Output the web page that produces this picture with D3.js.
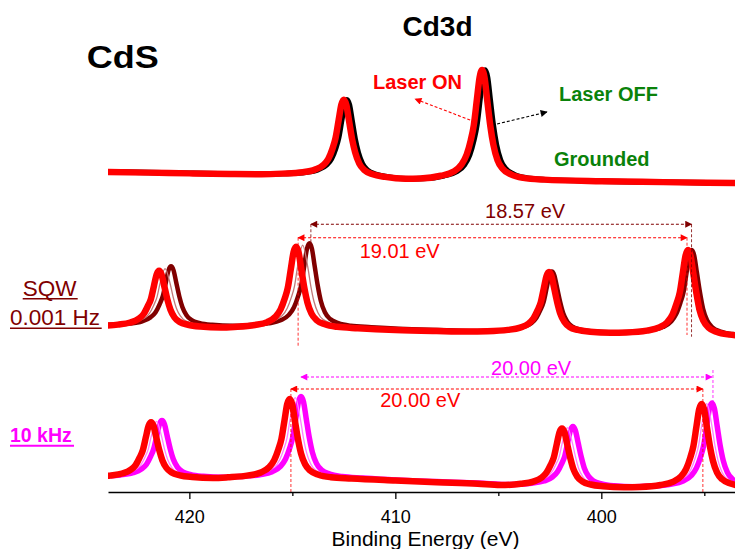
<!DOCTYPE html>
<html><head><meta charset="utf-8">
<script src="https://cdn.jsdelivr.net/npm/d3@7"></script>
<style>body{margin:0;background:#fff}svg{display:block}text{font-family:Arial,"Liberation Sans",sans-serif}</style>
</head><body><svg id="c" width="735" height="549"></svg>
<script>
// ---- axis ----
const xDomain = [423.95, 393.51];
const majorTicks = [420, 410, 400];
const minorTicks = [415, 405, 395];
const xTitle = "Binding Energy (eV)";

// ---- top panel: CdS grounded (intensity a.u.) [BE, I] ----
const topLaserOff = [[424,14.6],[422,14.0],[420,13.4],[418,12.9],[416.5,12.7],
[415.35,13.1],[414.35,14.2],[413.75,16.3],[413.35,19.9],[413.10,25],[412.90,33.1],[412.75,41.8],[412.60,56.1],[412.47,68.3],[412.35,72.3],[412.23,68.2],[412.10,55.6],[411.95,40.8],[411.80,30.1],[411.60,21.1],[411.35,15.9],[410.95,12.6],[410.35,10.5],[409.35,9.0],
[408.64,9.2],[407.64,11.4],[407.04,14.6],[406.64,20.3],[406.39,28.2],[406.19,39.7],[406.04,51.9],[405.89,72.4],[405.76,90],[405.64,96],[405.52,90],[405.39,71.9],[405.24,51.4],[405.09,36.2],[404.89,23.9],[404.64,17],[404.24,12.5],[403.64,9.7],[402.64,8.3],
[400,7.0],[397,6.3],[393.4,5.6]];
const topLaserOn = [[424,14.4],[422,13.9],[420,13.3],[418,12.8],[416.5,12.6],
[415.50,13.1],[414.50,14.2],[413.90,16.3],[413.50,19.9],[413.25,25],[413.05,33.1],[412.90,41.8],[412.75,56.1],[412.62,68.3],[412.50,72.3],[412.38,68.2],[412.25,55.6],[412.10,40.8],[411.95,30.1],[411.75,21.1],[411.50,15.9],[411.10,12.6],[410.50,10.5],[409.50,9.0],
[408.79,9.2],[407.79,11.4],[407.19,14.6],[406.79,20.3],[406.54,28.2],[406.34,39.7],[406.19,51.9],[406.04,72.4],[405.91,90],[405.79,96],[405.67,90],[405.54,71.9],[405.39,51.4],[405.24,36.2],[405.04,23.9],[404.79,17],[404.39,12.5],[403.79,9.7],[402.79,8.3],
[400,7.0],[397,6.3],[393.4,5.6]];

// ---- middle panel: SQW 0.001 Hz ----
const sqwDark = [[424.2,19.4],
[423.89,19.3],[422.89,20.4],[422.29,22.6],[421.89,26.3],[421.64,31.1],[421.44,38.9],[421.29,46.5],[421.14,59.8],[421.01,71.3],[420.89,74.9],[420.77,71.3],[420.64,59.8],[420.49,46.5],[420.34,36.2],[420.14,28.4],[419.89,23.8],[419.49,20.9],[418.89,19.2],[417.89,18.3],
[417.17,18.8],[416.17,20.6],[415.57,23.5],[415.17,28.7],[414.92,35.9],[414.72,46.5],[414.57,56.9],[414.42,75.6],[414.29,91.7],[414.17,96.8],[414.05,91.7],[413.92,75.6],[413.77,56.9],[413.62,42.2],[413.42,31.2],[413.17,24.8],[412.77,20.8],[412.17,18.3],[411.17,17.0],
[409.5,15.2],[407.5,14.0],[406.2,13.4],
[405.40,13.6],[404.40,14.9],[403.80,17.1],[403.40,20.8],[403.15,26.0],[402.95,33.7],[402.80,41.1],[402.65,54.7],[402.52,66.3],[402.40,70],[402.28,66.3],[402.15,54.7],[402.00,41.1],[401.85,30.2],[401.65,22.2],[401.40,17.5],[401.00,14.7],[400.40,13.0],[399.40,12.0],
[398.61,12.3],[397.61,14.1],[397.01,17.1],[396.61,22.3],[396.36,29.6],[396.16,40.3],[396.01,50.1],[395.86,69.1],[395.73,85.3],[395.61,90.5],[395.49,85.3],[395.36,69.1],[395.21,50.1],[395.06,34.6],[394.86,23.4],[394.61,16.9],[394.21,12.8],[393.61,10.4],[392.61,9.1]];
const sqwMid = [[424.2,18.8],
[423.18,19.9],[422.18,25.5],[421.93,30.3],[421.73,37.9],[421.58,45.1],[421.43,58.1],[421.18,72.8],[420.93,58.1],[420.78,45.1],[420.63,35.0],[420.43,27.4],[420.18,22.9],[419.18,18.4],
[416.50,19.8],[415.50,27.9],[415.25,35.0],[415.05,45.4],[414.90,55.6],[414.75,74.1],[414.50,95.1],[414.25,74.1],[414.10,55.6],[413.95,41.4],[413.75,30.5],[413.50,24.2],[412.50,17.8],
[410,14.6],[407,13.2],
[404.47,14.6],[403.47,20.5],[403.22,25.7],[403.02,33.4],[402.87,40.8],[402.72,54.4],[402.47,69.7],[402.22,54.4],[402.07,40.8],[401.92,30.0],[401.72,22.0],[401.47,17.3],[400.47,12.8],
[397.70,13.9],[396.70,22.1],[396.45,29.4],[396.25,40.1],[396.10,49.9],[395.95,68.9],[395.70,90.3],[395.45,68.9],[395.30,49.9],[395.15,34.4],[394.95,23.2],[394.70,16.7],[393.70,10.2],[393.0,8.9]];
const sqwRed = [[424.2,18.4],
[423.47,19.4],[422.87,21.4],[422.47,24.9],[422.22,29.5],[422.02,36.9],[421.87,43.6],[421.72,56.3],[421.59,67.1],[421.47,70.6],[421.35,67.1],[421.22,56.3],[421.07,43.6],[420.92,33.7],[420.72,26.2],[420.47,21.9],[420.07,19.3],[419.47,17.6],[418.47,16.7],
[417.82,17.2],[416.82,19.0],[416.22,21.8],[415.82,26.9],[415.57,34.0],[415.37,44.2],[415.22,54.6],[415.07,72.9],[414.94,88.5],[414.82,93.5],[414.70,88.5],[414.57,72.9],[414.42,54.6],[414.27,40.6],[414.07,29.8],[413.82,23.6],[413.42,19.7],[412.82,17.3],[411.82,16.0],
[410,14.3],[408,13.3],[406.5,12.8],
[405.54,13.1],[404.54,14.4],[403.94,16.6],[403.54,20.3],[403.29,25.5],[403.09,33.2],[402.94,40.6],[402.79,54.2],[402.66,65.8],[402.54,69.5],[402.42,65.8],[402.29,54.2],[402.14,40.6],[401.99,29.8],[401.79,21.8],[401.54,17.1],[401.14,14.3],[400.54,12.6],[399.54,11.6],
[398.79,11.9],[397.79,13.7],[397.19,16.7],[396.79,21.9],[396.54,29.2],[396.34,39.9],[396.19,50.1],[396.04,69.1],[395.91,85.3],[395.79,90.5],[395.67,85.3],[395.54,69.1],[395.39,50.1],[395.24,34.1],[395.04,22.9],[394.79,16.4],[394.39,12.3],[393.79,9.9],[392.79,8.6]];

// ---- bottom panel: 10 kHz ----
const khzMagenta = [[424.2,16.2],
[423.33,17.1],[422.73,19.3],[422.33,23.0],[422.08,27.8],[421.88,35.6],[421.73,43.1],[421.58,56.4],[421.45,67.9],[421.33,71.5],[421.21,67.9],[421.08,56.4],[420.93,43.1],[420.78,32.7],[420.58,24.9],[420.33,20.3],[419.93,17.4],[419.33,15.7],[418.33,14.8],
[417.58,15.4],[416.58,17.3],[415.98,20.3],[415.58,25.6],[415.33,33.0],[415.13,43.9],[414.98,54.7],[414.83,73.8],[414.70,90.4],[414.58,95.6],[414.46,90.4],[414.33,73.8],[414.18,54.7],[414.03,39.9],[413.83,28.6],[413.58,22.0],[413.18,17.9],[412.58,15.5],[411.58,14.0],
[410,12],[408,10.4],[406,9],
[404.38,7.4],[403.38,8.8],[402.78,11.0],[402.38,14.9],[402.13,20.3],[401.93,28.2],[401.78,35.6],[401.63,49.6],[401.50,61.7],[401.38,65.5],[401.26,61.7],[401.13,49.6],[400.98,35.6],[400.83,24.2],[400.63,15.9],[400.38,11.1],[399.98,8.2],[399.38,6.3],[398.38,5.3],
[397.63,5.9],[396.63,7.8],[396.03,11.0],[395.63,16.5],[395.38,24.1],[395.18,35.3],[395.03,46.6],[394.88,66.5],[394.75,83.6],[394.63,89.0],[394.51,83.6],[394.38,66.5],[394.23,46.6],[394.08,31.4],[393.88,19.7],[393.63,12.8],[393.23,8.6]];
const khzPink = [[424.2,15.8],
[423.60,16.7],[422.60,22.5],[422.35,27.3],[422.15,35.1],[422.00,42.4],[421.85,55.6],[421.60,70.6],[421.35,55.6],[421.20,42.4],[421.05,32.2],[420.85,24.4],[420.60,19.8],[419.60,15.3],
[416.86,16.9],[415.86,25.1],[415.61,32.4],[415.41,43.1],[415.26,53.9],[415.11,72.9],[414.86,94.3],[414.61,72.9],[414.46,53.9],[414.31,39.3],[414.11,28.1],[413.86,21.6],[412.86,15.0],
[410,11.7],[407,9.3],
[403.65,8.8],[402.65,14.7],[402.40,20.1],[402.20,27.9],[402.05,34.9],[401.90,48.7],[401.65,64.4],[401.40,48.7],[401.25,34.9],[401.10,23.5],[400.90,15.4],[400.65,10.7],[399.65,6.0],
[396.88,7.4],[395.88,16.0],[395.63,23.6],[395.43,34.8],[395.28,46.1],[395.13,65.9],[394.88,88.3],[394.63,65.9],[394.48,46.1],[394.33,31.1],[394.13,19.4],[393.88,12.7],[392.88,5.9]];
const khzRed = [[424.2,15.6],
[423.86,16.4],[423.26,18.5],[422.86,22.1],[422.61,26.9],[422.41,34.6],[422.26,41.8],[422.11,54.9],[421.98,66.2],[421.86,69.8],[421.74,66.2],[421.61,54.9],[421.46,41.8],[421.31,31.7],[421.11,24.0],[420.86,19.5],[420.46,16.7],[419.86,15.0],[418.86,14.0],
[418.13,14.7],[417.13,16.6],[416.53,19.5],[416.13,24.7],[415.88,31.9],[415.68,42.5],[415.53,53.1],[415.38,71.8],[415.25,87.9],[415.13,93],[415.01,87.9],[414.88,71.8],[414.73,53.1],[414.58,38.7],[414.38,27.7],[414.13,21.3],[413.73,17.3],[413.13,14.8],[412.13,13.5],
[410,11.5],[408,9.8],[406,8.3],
[404.91,6.9],[403.91,8.2],[403.31,10.4],[402.91,14.2],[402.66,19.5],[402.46,27.1],[402.31,34.4],[402.16,48.1],[402.03,59.8],[401.91,63.5],[401.79,59.8],[401.66,48.1],[401.51,34.4],[401.36,23.2],[401.16,15.1],[400.91,10.4],[400.51,7.5],[399.91,5.8],[398.91,4.8],
[398.13,5.1],[397.13,7.0],[396.53,10.2],[396.13,15.6],[395.88,23.2],[395.68,34.4],[395.53,45.9],[395.38,65.7],[395.25,82.7],[395.13,88.1],[395.01,82.7],[394.88,65.7],[394.73,45.9],[394.58,31.1],[394.38,19.4],[394.13,12.7],[393.73,8.5],[393.13,5.9]];

// ---- annotations (BE, intensity in panel units) ----
const sqwSpans = [
  {from:414.10, to:395.62, level:115, label:"18.57 eV", labelE:403.70, labelI:120.7, color:"#800000"},
  {from:414.72, to:395.84, level:102.2, label:"19.01 eV", labelE:409.79, labelI:82.6, color:"#ff0000"}];
const sqwDrops = [
  {e:414.72, i0:102.2, i1:-1.9, color:"#ff0000"},
  {e:395.84, i0:102.2, i1:9.5, color:"#ff0000"},
  {e:395.62, i0:115, i1:7.9, color:"#800000"},
  {e:414.10, i0:115, i1:97, color:"#800000"}];
const khzSpans = [
  {from:414.58, to:394.63, level:115, label:"20.00 eV", labelE:403.41, labelI:117, color:"#ff00ff"},
  {from:415.07, to:395.07, level:103, label:"20.00 eV", labelE:408.79, labelI:85.3, color:"#ff0000"}];
const khzDrops = [
  {e:415.07, i0:103, i1:0, color:"#ff0000"},
  {e:395.07, i0:103, i1:0, color:"#ff0000"},
  {e:394.58, i0:122, i1:90, color:"#ff00ff"}];
const topArrows = [
  {e0:406.37, i0:56, e1:409.04, i1:72.8, color:"#ff0000"},
  {e0:405.06, i0:52.8, e1:402.64, i1:62.4, color:"#000000"}];

const svg = d3.select("#c");
svg.append("rect").attr("width",735).attr("height",549).attr("fill","#fff");

const x = d3.scaleLinear().domain(xDomain).range([108,735]);
const yTop = d3.scaleLinear().domain([0,100]).range([190,65]);
const yMid = d3.scaleLinear().domain([0,100]).range([345,240]);
const yBot = d3.scaleLinear().domain([0,100]).range([492,392]);

const defs = svg.append("defs");
defs.append("clipPath").attr("id","plotclip").append("rect")
  .attr("x",108).attr("y",0).attr("width",627).attr("height",492);
function marker(id,color){
  defs.append("marker").attr("id",id).attr("viewBox","0 0 10 10")
    .attr("refX",9).attr("refY",5).attr("markerWidth",10).attr("markerHeight",7)
    .attr("markerUnits","userSpaceOnUse").attr("orient","auto-start-reverse")
    .append("path").attr("d","M0,0L10,5L0,10z").attr("fill",color);
}
marker("ar-red","#ff0000"); marker("ar-dark","#800000"); marker("ar-mag","#ff00ff"); marker("ar-blk","#000000");
const markerFor = c => c==="#ff0000"?"ar-red":c==="#800000"?"ar-dark":c==="#ff00ff"?"ar-mag":"ar-blk";

const plot = svg.append("g").attr("clip-path","url(#plotclip)");
function curve(data,y,color,w){
  const line = d3.line().x(d=>x(d[0])).y(d=>y(d[1])).curve(d3.curveMonotoneX);
  plot.append("path").datum(data).attr("d",line).attr("fill","none")
    .attr("stroke",color).attr("stroke-width",w).attr("stroke-linejoin","round");
}
// top
curve(topLaserOff,yTop,"#000",5.5);
curve(topLaserOn,yTop,"#ff0000",6.5);
// middle
curve(sqwDark,yMid,"#800000",4.5);
curve(sqwMid,yMid,"#c07a7a",1.3);
curve(sqwRed,yMid,"#ff0000",6.5);
// bottom
curve(khzMagenta,yBot,"#ff00ff",5.5);
curve(khzPink,yBot,"#ff80ff",1.3);
curve(khzRed,yBot,"#ff0000",6.5);

// annotations
const ann = svg.append("g");
function spans(list,y){
  list.forEach(s=>{
    ann.append("line").attr("x1",x(s.from)).attr("x2",x(s.to)).attr("y1",y(s.level)).attr("y2",y(s.level))
      .attr("stroke",s.color).attr("stroke-width",1.1).attr("stroke-dasharray","3,2")
      .attr("marker-start",`url(#${markerFor(s.color)})`).attr("marker-end",`url(#${markerFor(s.color)})`);
    ann.append("text").attr("x",x(s.labelE)).attr("y",y(s.labelI)).attr("text-anchor","middle")
      .attr("font-size",20).attr("fill",s.color).text(s.label);
  });
}
function drops(list,y){
  list.forEach(d=>{
    ann.append("line").attr("x1",x(d.e)).attr("x2",x(d.e)).attr("y1",y(d.i0)).attr("y2",y(d.i1))
      .attr("stroke",d.color).attr("stroke-width",1).attr("stroke-dasharray","3,2").attr("opacity",0.8);
  });
}
spans(sqwSpans,yMid); drops(sqwDrops,yMid);
spans(khzSpans,yBot); drops(khzDrops,yBot);
topArrows.forEach(a=>{
  ann.append("line").attr("x1",x(a.e0)).attr("y1",yTop(a.i0)).attr("x2",x(a.e1)).attr("y2",yTop(a.i1))
    .attr("stroke",a.color).attr("stroke-width",1.1).attr("stroke-dasharray","3,2")
    .attr("marker-end",`url(#${markerFor(a.color)})`);
});

// axis
const axMajor = d3.axisBottom(x).tickValues(majorTicks).tickSize(7).tickSizeOuter(0).tickPadding(11).tickFormat(d3.format("d"));
const gA = svg.append("g").attr("transform","translate(0,492)").call(axMajor);
gA.select(".domain").attr("stroke-width",1.4);
gA.selectAll(".tick line").attr("stroke-width",1.3);
gA.selectAll(".tick text").attr("font-size",18).attr("font-family",'Arial,"Liberation Sans",sans-serif').attr("fill","#000");
const axMinor = d3.axisBottom(x).tickValues(minorTicks).tickSize(4).tickSizeOuter(0).tickFormat("");
const gB = svg.append("g").attr("transform","translate(0,492)").call(axMinor);
gB.select(".domain").remove();
gB.selectAll(".tick line").attr("stroke-width",1.3);
svg.append("text").attr("x",425.5).attr("y",545.7).attr("text-anchor","middle").attr("font-size",21).text(xTitle);

// titles & labels
svg.append("text").attr("x",86.7).attr("y",68.3).attr("font-size",31).attr("font-weight","bold")
  .attr("textLength",72).attr("lengthAdjust","spacingAndGlyphs").text("CdS");
svg.append("text").attr("x",437.5).attr("y",36).attr("text-anchor","middle").attr("font-size",28).attr("font-weight","bold").text("Cd3d");
svg.append("text").attr("x",373).attr("y",89.3).attr("font-size",20).attr("font-weight","bold").attr("fill","#ff0000").text("Laser ON");
svg.append("text").attr("x",559).attr("y",100.7).attr("font-size",20).attr("font-weight","bold").attr("fill","#0a820a").text("Laser OFF");
svg.append("text").attr("x",554).attr("y",165.7).attr("font-size",20).attr("font-weight","bold").attr("fill","#0a820a").text("Grounded");

function ulabel(txt,x0,yb,size,weight,color,uy,x1,uw){
  svg.append("text").attr("x",x0).attr("y",yb).attr("font-size",size).attr("font-weight",weight).attr("fill",color).text(txt);
  svg.append("line").attr("x1",x0).attr("x2",x1).attr("y1",uy).attr("y2",uy).attr("stroke",color).attr("stroke-width",uw);
}
ulabel("SQW",22.7,296,22.5,"normal","#800000",298.7,77.7,1.5);
ulabel("0.001 Hz",10,325,22.5,"normal","#800000",328.3,101.7,1.5);
ulabel("10 kHz",10,442.3,19.5,"bold","#ff00ff",445.7,74,2);
</script></body></html>
